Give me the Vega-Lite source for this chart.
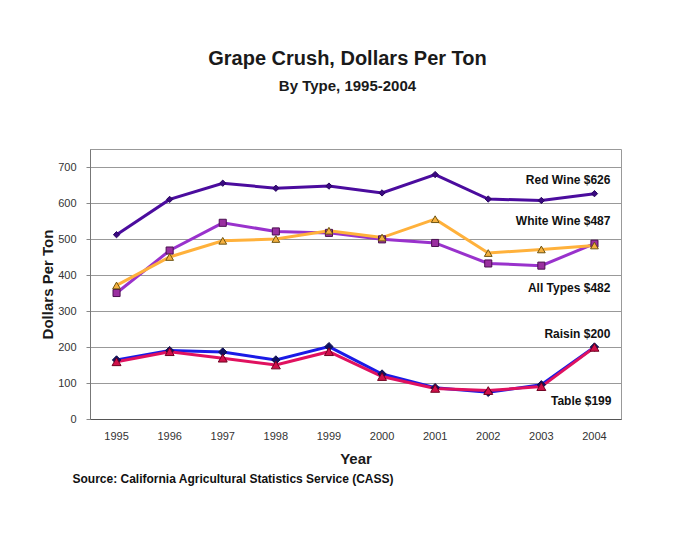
{
  "$schema": "https://vega.github.io/schema/vega-lite/v6.json",
  "width": 531,
  "height": 270,
  "autosize": {"type": "none"},
  "padding": {"left": 90, "top": 149, "right": 56, "bottom": 114},
  "background": "white",
  "title": {
    "text": "Grape Crush, Dollars Per Ton",
    "subtitle": "By Type, 1995-2004",
    "anchor": "middle",
    "frame": "group",
    "dx": -8,
    "offset": 55,
    "font": "Liberation Sans",
    "fontSize": 20,
    "fontWeight": "bold",
    "color": "#1a1a1a",
    "subtitleFont": "Liberation Sans",
    "subtitleFontSize": 15,
    "subtitleFontWeight": "bold",
    "subtitleColor": "#1a1a1a",
    "subtitlePadding": 10
  },
  "config": {"view": {"stroke": "#999", "strokeWidth": 1}, "font": "Liberation Sans"},
  "datasets": {
    "series": [
      {"Type": "Red Wine", "Year": "1995", "Value": 512},
      {"Type": "Red Wine", "Year": "1996", "Value": 610},
      {"Type": "Red Wine", "Year": "1997", "Value": 655},
      {"Type": "Red Wine", "Year": "1998", "Value": 641},
      {"Type": "Red Wine", "Year": "1999", "Value": 647},
      {"Type": "Red Wine", "Year": "2000", "Value": 628},
      {"Type": "Red Wine", "Year": "2001", "Value": 679},
      {"Type": "Red Wine", "Year": "2002", "Value": 611},
      {"Type": "Red Wine", "Year": "2003", "Value": 607},
      {"Type": "Red Wine", "Year": "2004", "Value": 626},
      {"Type": "White Wine", "Year": "1995", "Value": 350},
      {"Type": "White Wine", "Year": "1996", "Value": 468},
      {"Type": "White Wine", "Year": "1997", "Value": 545},
      {"Type": "White Wine", "Year": "1998", "Value": 521},
      {"Type": "White Wine", "Year": "1999", "Value": 517},
      {"Type": "White Wine", "Year": "2000", "Value": 499},
      {"Type": "White Wine", "Year": "2001", "Value": 489},
      {"Type": "White Wine", "Year": "2002", "Value": 432},
      {"Type": "White Wine", "Year": "2003", "Value": 426},
      {"Type": "White Wine", "Year": "2004", "Value": 487},
      {"Type": "All Types", "Year": "1995", "Value": 371},
      {"Type": "All Types", "Year": "1996", "Value": 450},
      {"Type": "All Types", "Year": "1997", "Value": 495},
      {"Type": "All Types", "Year": "1998", "Value": 500},
      {"Type": "All Types", "Year": "1999", "Value": 523},
      {"Type": "All Types", "Year": "2000", "Value": 504},
      {"Type": "All Types", "Year": "2001", "Value": 555},
      {"Type": "All Types", "Year": "2002", "Value": 461},
      {"Type": "All Types", "Year": "2003", "Value": 471},
      {"Type": "All Types", "Year": "2004", "Value": 482},
      {"Type": "Raisin", "Year": "1995", "Value": 164},
      {"Type": "Raisin", "Year": "1996", "Value": 190},
      {"Type": "Raisin", "Year": "1997", "Value": 186},
      {"Type": "Raisin", "Year": "1998", "Value": 164},
      {"Type": "Raisin", "Year": "1999", "Value": 201},
      {"Type": "Raisin", "Year": "2000", "Value": 125},
      {"Type": "Raisin", "Year": "2001", "Value": 87},
      {"Type": "Raisin", "Year": "2002", "Value": 74},
      {"Type": "Raisin", "Year": "2003", "Value": 95},
      {"Type": "Raisin", "Year": "2004", "Value": 200},
      {"Type": "Table", "Year": "1995", "Value": 159},
      {"Type": "Table", "Year": "1996", "Value": 187},
      {"Type": "Table", "Year": "1997", "Value": 169},
      {"Type": "Table", "Year": "1998", "Value": 150},
      {"Type": "Table", "Year": "1999", "Value": 187},
      {"Type": "Table", "Year": "2000", "Value": 118},
      {"Type": "Table", "Year": "2001", "Value": 85},
      {"Type": "Table", "Year": "2002", "Value": 79},
      {"Type": "Table", "Year": "2003", "Value": 90},
      {"Type": "Table", "Year": "2004", "Value": 199}
    ],
    "labels": [
      {"Type": "Red Wine", "Year": "2004", "Value": 626, "Label": "Red Wine $626"},
      {"Type": "White Wine", "Year": "2004", "Value": 487, "Label": "White Wine $487"},
      {"Type": "All Types", "Year": "2004", "Value": 482, "Label": "All Types $482"},
      {"Type": "Raisin", "Year": "2004", "Value": 200, "Label": "Raisin $200"},
      {"Type": "Table", "Year": "2004", "Value": 199, "Label": "Table  $199"}
    ]
  },
  "layer": [
    {
      "encoding": {
        "x": {
          "field": "Year",
          "type": "ordinal",
          "scale": {"type": "band", "paddingInner": 0, "paddingOuter": 0},
          "axis": {
            "title": "Year",
            "titleFont": "Liberation Sans",
            "titleFontSize": 15,
            "titleFontWeight": "bold",
            "titleColor": "#1a1a1a",
            "titlePadding": 10,
            "labelAngle": 0,
            "labelFont": "Liberation Sans",
            "labelFontSize": 11,
            "labelColor": "#333",
            "labelPadding": 11,
            "ticks": false,
            "tickSize": 0,
            "domainColor": "#555",
            "grid": false
          }
        },
        "y": {
          "field": "Value",
          "type": "quantitative",
          "scale": {"domain": [0, 750], "nice": false},
          "axis": {
            "values": [0, 100, 200, 300, 400, 500, 600, 700],
            "title": "Dollars Per Ton",
            "titleFont": "Liberation Sans",
            "titleFontSize": 15,
            "titleFontWeight": "bold",
            "titleColor": "#1a1a1a",
            "titlePadding": 2,
            "labelFont": "Liberation Sans",
            "labelFontSize": 11,
            "labelColor": "#333",
            "labelPadding": 10,
            "tickSize": 4,
            "tickColor": "#888",
            "domainColor": "#777",
            "grid": true,
            "gridColor": "#999",
            "gridWidth": 1
          }
        }
      },
      "layer": [
        {
          "data": {"name": "series"},
          "mark": {"type": "line", "strokeWidth": 3},
          "encoding": {
            "color": {
              "field": "Type",
              "type": "nominal",
              "scale": {
                "domain": ["Red Wine", "White Wine", "All Types", "Raisin", "Table"],
                "range": ["#4B0C9E", "#9932CC", "#FFB13B", "#1A1AE6", "#E0115F"]
              },
              "legend": null
            }
          }
        },
        {
          "data": {"name": "series"},
          "mark": {"type": "point", "filled": true, "strokeWidth": 1, "opacity": 1},
          "encoding": {
            "shape": {
              "field": "Type",
              "type": "nominal",
              "scale": {
                "domain": ["Red Wine", "White Wine", "All Types", "Raisin", "Table"],
                "range": ["diamond", "square", "triangle-up", "diamond", "triangle-up"]
              },
              "legend": null
            },
            "fill": {
              "field": "Type",
              "type": "nominal",
              "scale": {
                "domain": ["Red Wine", "White Wine", "All Types", "Raisin", "Table"],
                "range": ["#3A0A80", "#9A2FA0", "#F4B040", "#101060", "#D0104A"]
              },
              "legend": null
            },
            "stroke": {
              "field": "Type",
              "type": "nominal",
              "scale": {
                "domain": ["Red Wine", "White Wine", "All Types", "Raisin", "Table"],
                "range": ["#2A0660", "#4A1050", "#6E5410", "#101050", "#700020"]
              },
              "legend": null
            },
            "size": {
              "field": "Type",
              "type": "ordinal",
              "scale": {
                "domain": ["Red Wine", "White Wine", "All Types", "Raisin", "Table"],
                "range": [40, 80, 60, 20, 45]
              },
              "legend": null
            }
          }
        },
        {
          "data": {"name": "labels"},
          "transform": [{"filter": "datum.Type === 'Red Wine'"}],
          "mark": {"type": "text", "align": "right", "baseline": "middle", "dx": 16, "dy": -14, "font": "Liberation Sans", "fontSize": 12, "fontWeight": "bold", "color": "#111"},
          "encoding": {"text": {"field": "Label"}}
        },
        {
          "data": {"name": "labels"},
          "transform": [{"filter": "datum.Type === 'White Wine'"}],
          "mark": {"type": "text", "align": "right", "baseline": "middle", "dx": 16, "dy": -23, "font": "Liberation Sans", "fontSize": 12, "fontWeight": "bold", "color": "#111"},
          "encoding": {"text": {"field": "Label"}}
        },
        {
          "data": {"name": "labels"},
          "transform": [{"filter": "datum.Type === 'All Types'"}],
          "mark": {"type": "text", "align": "right", "baseline": "middle", "dx": 16, "dy": 43, "font": "Liberation Sans", "fontSize": 12, "fontWeight": "bold", "color": "#111"},
          "encoding": {"text": {"field": "Label"}}
        },
        {
          "data": {"name": "labels"},
          "transform": [{"filter": "datum.Type === 'Raisin'"}],
          "mark": {"type": "text", "align": "right", "baseline": "middle", "dx": 16, "dy": -13, "font": "Liberation Sans", "fontSize": 12, "fontWeight": "bold", "color": "#111"},
          "encoding": {"text": {"field": "Label"}}
        },
        {
          "data": {"name": "labels"},
          "transform": [{"filter": "datum.Type === 'Table'"}],
          "mark": {"type": "text", "align": "right", "baseline": "middle", "dx": 17, "dy": 54, "font": "Liberation Sans", "fontSize": 12, "fontWeight": "bold", "color": "#111"},
          "encoding": {"text": {"field": "Label"}}
        }
      ]
    },
    {
      "data": {"name": "series"},
      "mark": {"type": "point", "opacity": 0},
      "encoding": {
        "x": {
          "field": "Year",
          "type": "ordinal",
          "scale": {"type": "band", "paddingInner": 0, "paddingOuter": 0},
          "axis": {
            "orient": "bottom",
            "labels": false,
            "ticks": false,
            "domain": false,
            "grid": false,
            "title": "Source:  California Agricultural Statistics Service (CASS)",
            "titleFont": "Liberation Sans",
            "titleFontSize": 12,
            "titleFontWeight": "bold",
            "titleColor": "#111",
            "titleAnchor": "start",
            "titleAlign": "left",
            "titleBaseline": "top",
            "titleX": -18,
            "titleY": 54
          }
        }
      }
    }
  ],
  "resolve": {"scale": {"x": "independent"}, "axis": {"x": "independent"}}
}
